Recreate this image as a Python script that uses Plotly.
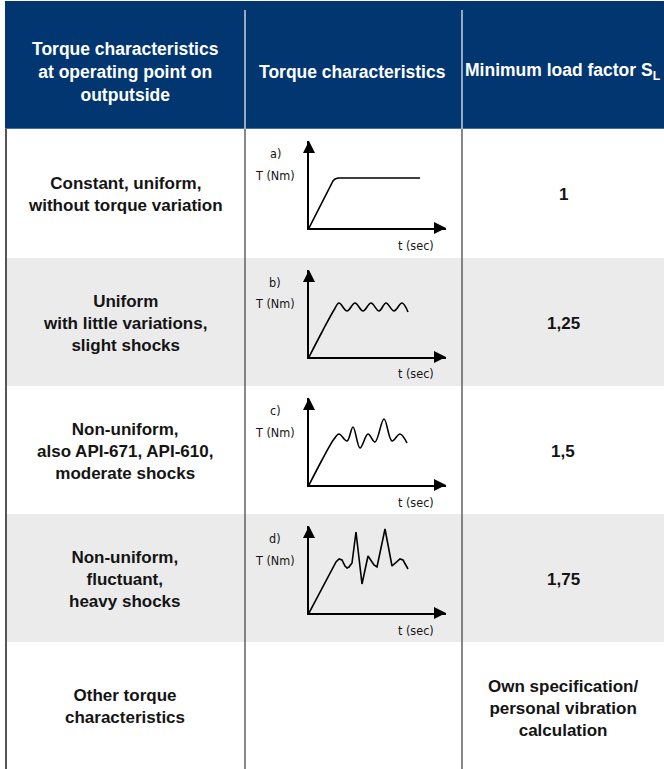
import plotly.graph_objects as go

W, H = 664, 769

# ---------------- data ----------------
header_texts = [
    "Torque characteristics<br>at operating point on<br>outputside",
    "Torque characteristics",
    "Minimum load factor S<sub>L</sub>",
]
characteristics = [
    "Constant, uniform,<br>without torque variation",
    "Uniform<br>with little variations,<br>slight shocks",
    "Non-uniform,<br>also API-671, API-610,<br>moderate shocks",
    "Non-uniform,<br>fluctuant,<br>heavy shocks",
    "Other torque<br>characteristics",
]
load_factors = ["1", "1,25", "1,5", "1,75",
                "Own specification/<br>personal vibration<br>calculation"]
curve_labels = ["a)", "b)", "c)", "d)"]
axis_y_label = "T (Nm)"
axis_x_label = "t (sec)"

# sketched torque curves (t, T)
curve_a_t = [0, 22, 24, 26, 29, 111]
curve_a_T = [0, 44, 47, 49, 50, 50]

curve_b_t = [0, 13, 25, 30, 38, 46, 54, 62, 70, 77, 85, 93, 99]
curve_b_T = [0, 25, 47, 54, 46, 54, 46, 54, 46, 54, 46, 54, 45]

curve_c_t = [0, 13, 25, 30, 38, 44, 51, 59, 66, 75, 83, 91, 98]
curve_c_T = [0, 25, 46, 51, 44, 58, 37, 51, 43, 66, 44, 51, 42]

curve_d_t = [0, 24, 27, 30, 33, 36, 38, 40, 43, 47, 53, 59, 62, 65, 68, 76, 83, 86, 89, 91, 94, 97, 99]
curve_d_T = [0, 46, 51, 54, 53, 47, 45, 46, 50, 81, 29, 57, 53, 48, 46, 84, 47, 50, 53, 54, 53, 48, 44]

curves = [
    (curve_a_t, curve_a_T, "linear"),
    (curve_b_t, curve_b_T, "spline"),
    (curve_c_t, curve_c_T, "spline"),
    (curve_d_t, curve_d_T, "linear"),
]

# ---------------- styling / geometry ----------------
NAVY = "#013671"
GREY_ROW = "#ebebeb"
LINE_DARK = "#555555"
TEXT_DARK = "#141414"
MAIN_FONT = "Liberation Sans, Arial, sans-serif"
NARROW_FONT = "Liberation Sans Narrow, DejaVu Sans Condensed, sans-serif"

left_x = 5
col_div = [245, 462]
right_x = 664
header_top = 1
header_bottom = 129
row_edges = [129, 258, 386, 514, 642, 769]
col_centers = [125, 353, 563]

mini_ox = 309          # pixel x of mini chart origin
mini_oy_off = 99       # origin below row top
x_len, y_len = 137, 87  # axis extents up to the arrow tips (local units = px)


def px_x(p):
    return p / W


def px_y(p):
    return 1 - p / H


fig = go.Figure()
shapes = []
annotations = []

# header block
shapes.append(dict(type="rect", xref="paper", yref="paper",
                   x0=px_x(left_x), x1=px_x(right_x),
                   y0=px_y(header_bottom), y1=px_y(header_top),
                   fillcolor=NAVY, line_width=0, layer="below"))
shapes.append(dict(type="line", xref="paper", yref="paper",
                   x0=px_x(left_x), x1=px_x(right_x),
                   y0=px_y(header_bottom - 0.5), y1=px_y(header_bottom - 0.5),
                   line=dict(color="#4a6c98", width=1), layer="below"))

# striped rows
for i in range(len(row_edges) - 1):
    if i % 2 == 1:
        shapes.append(dict(type="rect", xref="paper", yref="paper",
                           x0=px_x(left_x), x1=px_x(right_x),
                           y0=px_y(row_edges[i + 1]), y1=px_y(row_edges[i]),
                           fillcolor=GREY_ROW, line_width=0, layer="below"))

# header dividers
for cx in col_div:
    shapes.append(dict(type="line", xref="paper", yref="paper",
                       x0=px_x(cx), x1=px_x(cx), y0=px_y(10), y1=px_y(header_bottom),
                       line=dict(color="#c9d2de", width=1.5), layer="below"))
# body dividers + left border
for cx, wdt in [(left_x + 1, 2), (col_div[0], 1.4), (col_div[1], 1.4)]:
    shapes.append(dict(type="line", xref="paper", yref="paper",
                       x0=px_x(cx), x1=px_x(cx), y0=px_y(header_bottom), y1=px_y(H),
                       line=dict(color=LINE_DARK, width=wdt), layer="below"))

# header texts
for txt, cx in zip(header_texts, col_centers):
    annotations.append(dict(text=txt, xref="paper", yref="paper",
                            x=px_x(cx), y=px_y(72), xanchor="center", yanchor="middle",
                            showarrow=False, align="center",
                            font=dict(family=MAIN_FONT, size=17.5, color="white", weight="bold")))

# body texts
for i in range(len(characteristics)):
    cy = (row_edges[i] + row_edges[i + 1]) / 2 + 1
    annotations.append(dict(text=characteristics[i], xref="paper", yref="paper",
                            x=px_x(col_centers[0]), y=px_y(cy), xanchor="center", yanchor="middle",
                            showarrow=False, align="center",
                            font=dict(family=MAIN_FONT, size=17, color=TEXT_DARK, weight="bold")))
    annotations.append(dict(text=load_factors[i], xref="paper", yref="paper",
                            x=px_x(col_centers[2]), y=px_y(cy + (2 if i == 4 else 0)),
                            xanchor="center", yanchor="middle",
                            showarrow=False, align="center",
                            font=dict(family=MAIN_FONT, size=17, color=TEXT_DARK, weight="bold")))

# mini charts
layout_axes = {}
for i, (ct, cT, shape) in enumerate(curves):
    k = i + 2
    oy = row_edges[i] + mini_oy_off
    xa, ya = f"x{k}", f"y{k}"
    layout_axes[f"xaxis{k}"] = dict(domain=[px_x(mini_ox), px_x(mini_ox + x_len)],
                                    range=[0, x_len], anchor=ya,
                                    showline=True, linecolor="black", linewidth=2,
                                    showgrid=False, zeroline=False, showticklabels=False,
                                    ticks="", fixedrange=True)
    layout_axes[f"yaxis{k}"] = dict(domain=[px_y(oy), px_y(oy - y_len)],
                                    range=[0, y_len], anchor=xa,
                                    showline=True, linecolor="black", linewidth=2,
                                    showgrid=False, zeroline=False, showticklabels=False,
                                    ticks="", fixedrange=True)
    # arrowheads at the axis ends
    fig.add_trace(go.Scatter(x=[0, x_len], y=[y_len, 0], xaxis=xa, yaxis=ya,
                             mode="markers", cliponaxis=False, hoverinfo="skip",
                             marker=dict(symbol=["arrow-up", "arrow-right"], size=12,
                                         color="black", line=dict(width=0)),
                             showlegend=False))
    # torque curve
    fig.add_trace(go.Scatter(x=ct, y=cT, xaxis=xa, yaxis=ya, mode="lines",
                             line=dict(color="black", width=1.6, shape=shape, smoothing=1.0),
                             cliponaxis=False, hoverinfo="skip", showlegend=False))
    # labels
    lbl_font = dict(family=NARROW_FONT, size=12.5, color=TEXT_DARK)
    annotations.append(dict(text=curve_labels[i], xref="paper", yref="paper",
                            x=px_x(mini_ox - 34), y=px_y(oy - 75), xanchor="center", yanchor="middle",
                            showarrow=False, font=lbl_font))
    annotations.append(dict(text=axis_y_label, xref="paper", yref="paper",
                            x=px_x(mini_ox - 34), y=px_y(oy - 53), xanchor="center", yanchor="middle",
                            showarrow=False, font=lbl_font))
    annotations.append(dict(text=axis_x_label, xref="paper", yref="paper",
                            x=px_x(mini_ox + 107), y=px_y(oy + 17), xanchor="center", yanchor="middle",
                            showarrow=False, font=lbl_font))

fig.update_layout(
    width=W, height=H,
    margin=dict(l=0, r=0, t=0, b=0),
    paper_bgcolor="white", plot_bgcolor="rgba(0,0,0,0)",
    shapes=shapes, annotations=annotations,
    showlegend=False,
    xaxis=dict(visible=False, domain=[0, 0.01]), yaxis=dict(visible=False, domain=[0, 0.01]),
    **layout_axes,
)

fig.write_html("out.html", config={"displayModeBar": False, "staticPlot": True},
               post_script="document.body.style.margin='0px';document.body.style.padding='0px';")
